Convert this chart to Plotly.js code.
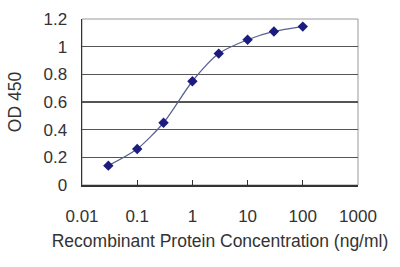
<!DOCTYPE html>
<html><head><meta charset="utf-8">
<script src="https://cdn.plot.ly/plotly-3.0.1.min.js"></script>
<style>body{margin:0;background:#fff}#c{width:400px;height:267px}</style>
</head><body><div id="c"></div>
<script>
const conc = [0.03, 0.1, 0.3, 1, 3, 10, 30, 100];
const od = [0.14, 0.26, 0.45, 0.75, 0.95, 1.05, 1.11, 1.145];
const xTicks = [0.01, 0.1, 1, 10, 100, 1000];
const xTickText = ['0.01', '0.1', '1', '10', '100', '1000'];
const yTicks = [0, 0.2, 0.4, 0.6, 0.8, 1, 1.2];
const yTickText = ['0', '0.2', '0.4', '0.6', '0.8', '1', '1.2'];

const trace = {
  x: conc, y: od, type: 'scatter', mode: 'lines+markers',
  line: {shape: 'spline', smoothing: 0.7, color: '#55608f', width: 1.2},
  marker: {symbol: 'diamond', size: 8, color: '#1c1c80'}
};
const layout = {
  width: 400, height: 267,
  margin: {l: 82, r: 42, t: 19, b: 82},
  paper_bgcolor: '#fff', plot_bgcolor: '#fff',
  showlegend: false,
  font: {family: 'Liberation Sans, Arial, sans-serif', color: '#333'},
  xaxis: {
    type: 'log', range: [-2, 3], tickvals: xTicks, ticktext: xTickText,
    ticks: 'inside', ticklen: 5, tickcolor: '#333', showgrid: false,
    showline: true, linecolor: '#333', linewidth: 1.5, mirror: false,
    tickfont: {size: 17, color: '#333'}, ticklabelstandoff: 15,
    title: {text: 'Recombinant Protein Concentration (ng/ml)', font: {size: 17.5, color: '#333'}, standoff: 10},
    zeroline: false, automargin: false
  },
  yaxis: {
    range: [0, 1.2], tickvals: yTicks, ticktext: yTickText,
    showgrid: true, gridcolor: '#555', gridwidth: 1.4,
    showline: true, linecolor: '#333', linewidth: 1.5,
    ticks: '', tickfont: {size: 17, color: '#333'}, ticklabelstandoff: 10,
    title: {text: 'OD 450', font: {size: 17.5, color: '#333'}, standoff: 17},
    zeroline: false, automargin: false
  },
  shapes: [{type: 'rect', xref: 'paper', yref: 'paper', x0: 0, x1: 1, y0: 0, y1: 1,
    line: {color: '#999', width: 1}, layer: 'below'}]
};
Plotly.newPlot('c', [trace], layout, {displayModeBar: false, staticPlot: true});
</script></body></html>
